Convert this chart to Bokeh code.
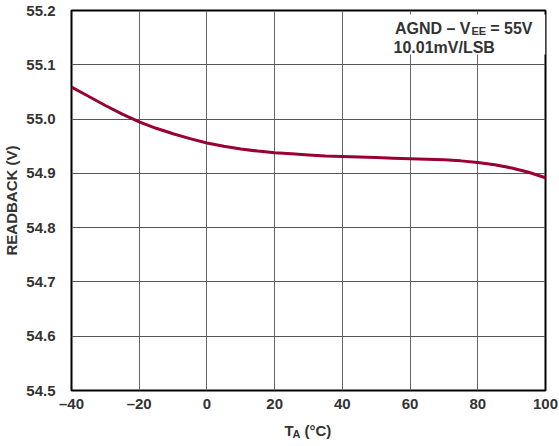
from bokeh.plotting import figure
from bokeh.layouts import column
from bokeh.models import FixedTicker, Label, BoxAnnotation, Range1d
from bokeh.core.properties import value
from bokeh.embed import file_html
from bokeh.resources import INLINE

# Readback voltage vs. ambient temperature
temp_c = [-40, -35, -30, -25, -20, -15, -10, -5, 0, 5, 10, 15, 20, 25, 30,
          35, 40, 45, 50, 55, 60, 65, 70, 75, 80, 85, 90, 95, 100]
readback_v = [55.059, 55.042, 55.025, 55.009, 54.995, 54.983, 54.973, 54.964,
              54.956, 54.950, 54.945, 54.941, 54.938, 54.936, 54.934, 54.932,
              54.931, 54.930, 54.929, 54.928, 54.927, 54.926, 54.925, 54.923,
              54.920, 54.916, 54.910, 54.902, 54.892]

x_ticks = [-40, -20, 0, 20, 40, 60, 80, 100]
x_tick_labels = ["\u201340", "\u201320", "0", "20", "40", "60", "80", "100"]
y_ticks = [54.5, 54.6, 54.7, 54.8, 54.9, 55.0, 55.1, 55.2]
y_tick_labels = ["54.5", "54.6", "54.7", "54.8", "54.9", "55.0", "55.1", "55.2"]

FONT = "Liberation Sans"
TEXT_COLOR = "#333333"
LINE_COLOR = "#990033"

x_range = Range1d(-40, 100)

p = figure(width=559, height=422, output_backend="svg", toolbar_location=None,
           x_range=x_range, y_range=Range1d(54.5, 55.2),
           min_border_left=69, min_border_right=14,
           min_border_top=10, min_border_bottom=32)

p.background_fill_color = "white"
p.border_fill_color = "white"
p.outline_line_color = "black"
p.outline_line_width = 2

for ax in (p.xaxis[0], p.yaxis[0]):
    ax.axis_line_color = None
    ax.major_tick_line_color = None
    ax.minor_tick_line_color = None
    ax.major_label_text_font = FONT
    ax.major_label_text_font_style = "bold"
    ax.major_label_text_font_size = "15px"
    ax.major_label_text_color = TEXT_COLOR

p.xaxis.ticker = FixedTicker(ticks=x_ticks)
p.xaxis.major_label_overrides = {t: s for t, s in zip(x_ticks, x_tick_labels)}
p.xaxis.major_label_standoff = -2
p.xaxis.axis_label = None

p.yaxis.ticker = FixedTicker(ticks=y_ticks)
p.yaxis.major_label_overrides = {t: s for t, s in zip(y_ticks, y_tick_labels)}
p.yaxis.major_label_standoff = 10
p.yaxis.axis_label = "READBACK (V)"
p.yaxis.axis_label_text_font = FONT
p.yaxis.axis_label_text_font_style = "bold"
p.yaxis.axis_label_text_font_size = "15px"
p.yaxis.axis_label_text_color = TEXT_COLOR
p.yaxis.axis_label_standoff = 3

p.xgrid.grid_line_color = "#666666"
p.ygrid.grid_line_color = "#555555"
p.xgrid.grid_line_width = 1
p.ygrid.grid_line_width = 1

p.line(temp_c, readback_v, line_color=LINE_COLOR, line_width=3)

# white panel behind the condition note
p.add_layout(BoxAnnotation(left=54.4, right=100, top=55.1926, bottom=55.119,
                           fill_color="white", fill_alpha=1.0, line_color=None,
                           level="underlay"))


def note(text, dx, dy, size="16px", align="left"):
    p.add_layout(Label(x=100, y=55.2, x_offset=dx, y_offset=dy, text=text,
                       text_font=FONT, text_font_style="bold",
                       text_font_size=size, text_color=TEXT_COLOR,
                       text_align=align, text_baseline="alphabetic"))


# condition note, top right
note("AGND \u2013 V", -75, -18, align="right")
note("EE", -74, -20, size="11px")
note("= 55V", -13, -18, align="right")
note("10.01mV/LSB", -152, -37)

# strip under the chart carrying the x axis title (T with subscript A)
strip = figure(width=559, height=24, output_backend="svg", toolbar_location=None,
               x_range=x_range, y_range=Range1d(0, 24),
               x_axis_type=None, y_axis_type=None,
               min_border_left=69, min_border_right=14,
               min_border_top=0, min_border_bottom=0)
strip.outline_line_color = None
strip.background_fill_color = "white"
strip.border_fill_color = "white"

title_x = (x_range.start + x_range.end) / 2
text_style = dict(text_font=value(FONT), text_font_style="bold",
                  text_color=TEXT_COLOR, text_baseline="alphabetic")
strip.text(x=[title_x], y=[16], text=["T"], x_offset=-24,
           text_font_size="15px", **text_style)
strip.text(x=[title_x], y=[13], text=["A"], x_offset=-16,
           text_font_size="11px", **text_style)
strip.text(x=[title_x], y=[16], text=["(\u00b0C)"], x_offset=-4,
           text_font_size="15px", **text_style)

layout = column(p, strip, spacing=0)

open("out.html", "w").write(file_html(layout, INLINE))
